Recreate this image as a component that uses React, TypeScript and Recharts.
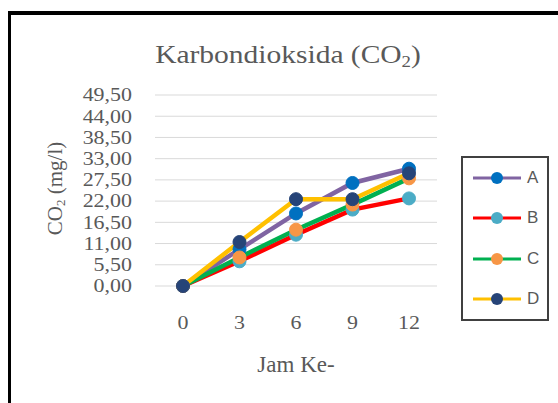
import React from 'react'
import { LineChart, Line, XAxis, YAxis, CartesianGrid, Legend } from 'recharts'

// jam ke- (sumbu x)
const hours = ['0', '3', '6', '9', '12']
// CO2 (mg/l) per perlakuan
const seriesA = [0, 9.5, 18.8, 26.7, 30.4]
const seriesB = [0, 6.4, 13.3, 19.8, 22.7]
const seriesC = [0, 7.4, 14.6, 21.1, 27.9]
const seriesD = [0, 11.4, 22.5, 22.5, 29.2]
const seriesNames = ['A', 'B', 'C', 'D']
const yTicks = [0, 5.5, 11, 16.5, 22, 27.5, 33, 38.5, 44, 49.5]

const lineColors: Record<string, string> = { A: '#8064A2', B: '#FF0000', C: '#00B050', D: '#FFC000' }
const markerColors: Record<string, string> = { A: '#0070C0', B: '#4BACC6', C: '#F79646', D: '#264478' }

const data = hours.map((h, i) => ({
  hour: h,
  A: seriesA[i],
  B: seriesB[i],
  C: seriesC[i],
  D: seriesD[i],
}))

const SERIF = '"Liberation Serif", "Times New Roman", serif'
const TEXT = '#595959'

const fmt = (v: number) => v.toFixed(2).replace('.', ',')

const YTick = (props: any) => {
  const { x, y, payload } = props
  return (
    <text transform={`translate(${x},${y}) scale(1.22,1)`} x={0} y={0} dy="0.35em" textAnchor="end"
      fill={TEXT} fontSize={18} fontFamily={SERIF}>
      {fmt(payload.value)}
    </text>
  )
}

const XTick = (props: any) => {
  const { x, y, payload } = props
  return (
    <text transform={`translate(${x},${y}) scale(1.22,1)`} x={0} y={0} dy="0.71em" textAnchor="middle"
      fill={TEXT} fontSize={18} fontFamily={SERIF}>
      {payload.value}
    </text>
  )
}

const LegendBox = (props: any) => {
  const items = props.payload || []
  return (
    <div style={{ width: 88, height: 165, border: '2px solid #404040', boxSizing: 'border-box', background: '#fff' }}>
      {items.map((it: any) => {
        const key = it.dataKey as string
        return (
          <div key={key} style={{ height: 40.25, display: 'flex', alignItems: 'center' }}>
            <svg width={48} height={14} style={{ marginLeft: 10 }}>
              <line x1={0} y1={7} x2={48} y2={7} stroke={lineColors[key]} strokeWidth={3} />
              <circle cx={24} cy={7} r={6} fill={markerColors[key]} />
            </svg>
            <span style={{ marginLeft: 6, fontFamily: '"Liberation Sans", Arial, sans-serif', fontSize: 17, color: TEXT }}>
              {key}
            </span>
          </div>
        )
      })}
    </div>
  )
}

export default function App() {
  return (
    <div style={{ position: 'absolute', left: 0, top: 0, width: 558, height: 403, overflow: 'hidden', background: '#fff' }}>
      <div style={{ position: 'absolute', left: 8, top: 11, width: 600, height: 450, borderLeft: '3px solid #000', borderTop: '4px solid #000' }} />
      <div style={{ position: 'absolute', left: 0, top: 0 }}>
        <LineChart width={558} height={403} data={data} margin={{ top: 95, right: 121, bottom: 87, left: 95 }}>
          <CartesianGrid vertical={false} stroke="#D9D9D9" strokeWidth={1} />
          <XAxis dataKey="hour" axisLine={false} tickLine={false} tickSize={0} tickMargin={30} height={30} tick={<XTick />}
            interval={0} padding={{ left: 28, right: 28 }} />
          <YAxis type="number" domain={[0, 49.5]} ticks={yTicks} axisLine={false} tickLine={false} tickSize={0} tickMargin={23}
            width={60} tick={<YTick />} interval={0} />
          <Legend layout="vertical" align="center" verticalAlign="middle" content={<LegendBox />}
            wrapperStyle={{ position: 'absolute', left: 461, top: 156, width: 88, height: 165 }} />
          {seriesNames.map((k) => (
            <Line key={k} type="linear" dataKey={k} stroke={lineColors[k]} strokeWidth={4.5}
              dot={{ r: 6.5, fill: markerColors[k], stroke: markerColors[k], strokeWidth: 1 }}
              activeDot={false} isAnimationActive={false} />
          ))}
        </LineChart>
      </div>
      <svg width={558} height={403} style={{ position: 'absolute', left: 0, top: 0, pointerEvents: 'none' }}>
        <text transform="translate(288,63) scale(1.18,1)" x={0} y={0} textAnchor="middle" fontFamily={SERIF} fontSize={25} fill={TEXT}>
          Karbondioksida (CO<tspan fontSize={16} dy={4}>2</tspan><tspan dy={-4}>)</tspan>
        </text>
        <text transform="translate(62,188.5) rotate(-90)" x={0} y={0} textAnchor="middle" fontFamily={SERIF} fontSize={21} fill={TEXT}>
          CO<tspan fontSize={13} dy={3}>2</tspan><tspan dy={-3}> (mg/l)</tspan>
        </text>
        <text x={296} y={371.5} textAnchor="middle" fontFamily={SERIF} fontSize={23} fill={TEXT}>
          Jam Ke-
        </text>
      </svg>
    </div>
  )
}
